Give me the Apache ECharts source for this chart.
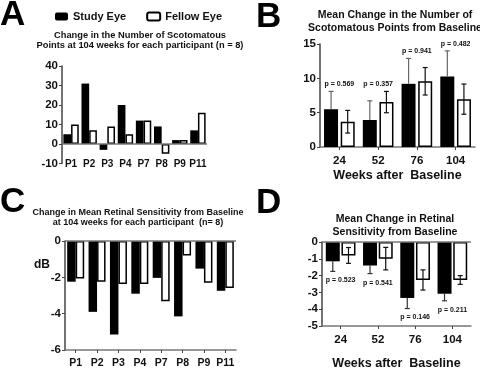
<!DOCTYPE html>
<html>
<head>
<meta charset="utf-8">
<script src="https://cdn.jsdelivr.net/npm/echarts@6/dist/echarts.min.js"></script>
<style>
  html, body { margin: 0; padding: 0; background: #fff; }
  #main { width: 480px; height: 371px; }
</style>
</head>
<body>
<div id="main"></div>
<script>
// panel A / C categories
const participants = ['P1', 'P2', 'P3', 'P4', 'P7', 'P8', 'P9', 'P11'];
// A: change in number of scotomatous points at 104 weeks
const scotomaStudy = [5, 31, -3, 20, 12, 9, 2, 7];
const scotomaFellow = [10, 7, 9, 5, 12, -5, 2, 16];
// C: change in mean retinal sensitivity at 104 weeks (dB)
const sensStudy = [-2.24, -3.9, -5.15, -2.9, -2.03, -4.15, -1.52, -2.74];
const sensFellow = [-2.07, -2.24, -2.37, -2.37, -3.32, -0.8, -2.3, -2.59];
// B / D categories
const weeks = ['24', '52', '76', '104'];
// B: mean change in scotomatous points
const meanScotomaStudy = [5.5, 3.93, 9.2, 10.25];
const meanScotomaStudyErr = [2.6, 2.8, 3.7, 3.75];
const meanScotomaFellow = [3.68, 6.54, 9.57, 6.97];
const meanScotomaFellowErr = [1.65, 1.55, 2.0, 2.2];
const pScotoma = ['p = 0.569', 'p = 0.357', 'p = 0.941', 'p = 0.482'];
// D: mean change in retinal sensitivity
const meanSensStudy = [-1.15, -1.4, -3.33, -3.08];
const meanSensStudyErr = [0.6, 0.48, 0.63, 0.42];
const meanSensFellow = [-0.8, -0.99, -2.26, -2.26];
const meanSensFellowErr = [0.47, 0.67, 0.6, 0.26];
const pSens = ['p = 0.523', 'p = 0.541', 'p = 0.146', 'p = 0.211'];

const FONT = 'Liberation Sans';
const chart = echarts.init(document.getElementById('main'));

const studyStyle = { color: '#000' };
const fellowStyle = { color: '#fff', borderColor: '#000', borderWidth: 1.5 };
const zeroLine = {
  silent: true, symbol: 'none', label: { show: false },
  lineStyle: { color: '#777', width: 1.5, type: 'solid' },
  data: [{ yAxis: 0 }]
};
const tickFont = { color: '#111', fontFamily: FONT, fontWeight: 'bold', fontSize: 11.5 };
const nameFont = { color: '#111', fontFamily: FONT, fontWeight: 'bold', fontSize: 12.5 };

function catAxis(idx, data, extra) {
  return Object.assign({
    type: 'category', gridIndex: idx, data: data,
    axisLine: { onZero: false, lineStyle: { color: '#777', width: 1.5 } },
    axisTick: { show: true, alignWithLabel: true, length: 3, lineStyle: { color: '#444' } },
    axisLabel: Object.assign({ interval: 0, margin: 8 }, tickFont)
  }, extra || {});
}
function valAxis(idx, min, max, step) {
  return {
    type: 'value', gridIndex: idx, min: min, max: max, interval: step,
    axisLine: { show: true, lineStyle: { color: '#444', width: 1.5 } },
    axisTick: { show: true, length: 3, lineStyle: { color: '#444' } },
    splitLine: { show: false },
    axisLabel: Object.assign({ margin: 4 }, tickFont)
  };
}

// error bars: offset = px shift from category centre, dir = 'up' | 'down' | 'both'
function errSeries(idx, vals, errs, offset, dir, color) {
  return {
    type: 'custom', xAxisIndex: idx, yAxisIndex: idx, z: 5, silent: true,
    data: vals.map((v, i) => [i, v, errs[i]]),
    encode: { x: 0, y: 1 },
    renderItem: function (params, api) {
      const x = api.coord([api.value(0), 0])[0] + offset;
      const v = api.value(1), e = api.value(2);
      const yv = api.coord([0, v])[1];
      const yt = api.coord([0, v + e])[1];
      const yb = api.coord([0, v - e])[1];
      const st = { stroke: color, lineWidth: 1.2 };
      const kids = [];
      const a = dir === 'down' ? yv : yt;
      const b = dir === 'up' ? yv : yb;
      kids.push({ type: 'line', shape: { x1: x, y1: a, x2: x, y2: b }, style: st });
      if (dir !== 'down') kids.push({ type: 'line', shape: { x1: x - 2.5, y1: yt, x2: x + 2.5, y2: yt }, style: st });
      if (dir !== 'up') kids.push({ type: 'line', shape: { x1: x - 2.5, y1: yb, x2: x + 2.5, y2: yb }, style: st });
      return { type: 'group', children: kids };
    }
  };
}

function pSeries(idx, labels, anchors, dy) {
  return {
    type: 'custom', xAxisIndex: idx, yAxisIndex: idx, z: 6, silent: true,
    data: anchors.map((v, i) => [i, v]),
    encode: { x: 0, y: 1 },
    renderItem: function (params, api) {
      const p = api.coord([api.value(0), api.value(1)]);
      return {
        type: 'text', x: p[0], y: p[1] + dy,
        style: { text: labels[params.dataIndex], fill: '#111', font: 'bold 7px ' + FONT, align: 'center', verticalAlign: 'middle' }
      };
    }
  };
}

const pScotomaAnchor = meanScotomaStudy.map((v, i) =>
  Math.max(v + meanScotomaStudyErr[i], meanScotomaFellow[i] + meanScotomaFellowErr[i]));
const pSensAnchor = meanSensStudy.map((v, i) => v - meanSensStudyErr[i]);

const option = {
  animation: false,
  backgroundColor: '#fff',
  textStyle: { fontFamily: FONT },
  legend: {
    data: ['Study Eye', 'Fellow Eye'], left: 50, top: 6,
    itemWidth: 13, itemHeight: 8, itemGap: 20,
    textStyle: { fontFamily: FONT, fontWeight: 'bold', fontSize: 11, color: '#111' }
  },
  title: [
    { text: 'Change in the Number of Scotomatous\nPoints at 104 weeks for each participant (n = 8)', left: 140, top: 30, textAlign: 'center', padding: 0,
      textStyle: { fontFamily: FONT, fontWeight: 'bold', fontSize: 9.3, lineHeight: 10.5, color: '#111' } },
    { text: 'Mean Change in the Number of\nScotomatous Points from Baseline', left: 395, top: 9, textAlign: 'center', padding: 0,
      textStyle: { fontFamily: FONT, fontWeight: 'bold', fontSize: 10.5, lineHeight: 12.5, color: '#111' } },
    { text: 'Change in Mean Retinal Sensitivity from Baseline\nat 104 weeks for each participant  (n= 8)', left: 138, top: 207, textAlign: 'center', padding: 0,
      textStyle: { fontFamily: FONT, fontWeight: 'bold', fontSize: 9, lineHeight: 10.5, color: '#111' } },
    { text: 'Mean Change in Retinal\nSensitivity from Baseline', left: 395, top: 213, textAlign: 'center', padding: 0,
      textStyle: { fontFamily: FONT, fontWeight: 'bold', fontSize: 10.5, lineHeight: 12.5, color: '#111' } }
  ],
  graphic: [
    { type: 'text', x: 0, y: 15, style: { text: 'A', font: 'bold 35px ' + FONT, fill: '#000', verticalAlign: 'middle' } },
    { type: 'text', x: 256, y: 17, style: { text: 'B', font: 'bold 35px ' + FONT, fill: '#000', verticalAlign: 'middle' } },
    { type: 'text', x: 0, y: 202, style: { text: 'C', font: 'bold 35px ' + FONT, fill: '#000', verticalAlign: 'middle' } },
    { type: 'text', x: 256, y: 203, style: { text: 'D', font: 'bold 35px ' + FONT, fill: '#000', verticalAlign: 'middle' } },
    { type: 'text', x: 42, y: 265, style: { text: 'dB', font: 'bold 12px ' + FONT, fill: '#111', align: 'center', verticalAlign: 'middle' } }
  ],
  grid: [
    { left: 62, top: 66, width: 145, height: 97.5 },
    { left: 320, top: 44, width: 155, height: 103 },
    { left: 65, top: 241, width: 171, height: 109 },
    { left: 322, top: 242, width: 149, height: 97 }
  ],
  xAxis: [
    catAxis(0, participants, { axisLine: { show: false }, axisTick: { show: false },
      axisLabel: Object.assign({}, tickFont, { interval: 0, margin: -4, fontSize: 10 }) }),
    catAxis(1, weeks, { name: 'Weeks after  Baseline', nameLocation: 'middle', nameGap: 22, nameTextStyle: nameFont }),
    catAxis(2, participants, { axisLabel: Object.assign({}, tickFont, { interval: 0, margin: 8, fontSize: 10.5 }) }),
    catAxis(3, weeks, { name: 'Weeks after  Baseline', nameLocation: 'middle', nameGap: 31, nameTextStyle: nameFont })
  ],
  yAxis: [
    valAxis(0, -10, 40, 10),
    valAxis(1, 0, 15, 5),
    valAxis(2, -6, 0, 2),
    valAxis(3, -5, 0, 1)
  ],
  series: [
    // A
    { name: 'Study Eye', type: 'bar', xAxisIndex: 0, yAxisIndex: 0, data: scotomaStudy, barWidth: 7.7, barGap: '0%', itemStyle: studyStyle, markLine: zeroLine },
    { name: 'Fellow Eye', type: 'bar', xAxisIndex: 0, yAxisIndex: 0, data: scotomaFellow, barWidth: 7.7, barGap: '0%', itemStyle: fellowStyle },
    // B
    { name: 'Study Eye', type: 'bar', xAxisIndex: 1, yAxisIndex: 1, data: meanScotomaStudy, barWidth: 14, barGap: '19%', itemStyle: studyStyle },
    { name: 'Fellow Eye', type: 'bar', xAxisIndex: 1, yAxisIndex: 1, data: meanScotomaFellow, barWidth: 14, barGap: '19%', itemStyle: fellowStyle },
    errSeries(1, meanScotomaStudy, meanScotomaStudyErr, -8.3, 'up', '#666'),
    errSeries(1, meanScotomaFellow, meanScotomaFellowErr, 8.3, 'both', '#111'),
    pSeries(1, pScotoma, pScotomaAnchor, -7),
    // C
    { name: 'Study Eye', type: 'bar', xAxisIndex: 2, yAxisIndex: 2, data: sensStudy, barWidth: 8.5, barGap: '0%', itemStyle: studyStyle, markLine: zeroLine },
    { name: 'Fellow Eye', type: 'bar', xAxisIndex: 2, yAxisIndex: 2, data: sensFellow, barWidth: 8.5, barGap: '0%', itemStyle: fellowStyle },
    // D
    { name: 'Study Eye', type: 'bar', xAxisIndex: 3, yAxisIndex: 3, data: meanSensStudy, barWidth: 14, barGap: '12%', itemStyle: studyStyle, markLine: zeroLine },
    { name: 'Fellow Eye', type: 'bar', xAxisIndex: 3, yAxisIndex: 3, data: meanSensFellow, barWidth: 14, barGap: '12%', itemStyle: fellowStyle },
    errSeries(3, meanSensStudy, meanSensStudyErr, -7.85, 'down', '#333'),
    errSeries(3, meanSensFellow, meanSensFellowErr, 7.85, 'both', '#111'),
    pSeries(3, pSens, pSensAnchor, 9)
  ]
};
chart.setOption(option);
</script>
</body>
</html>
